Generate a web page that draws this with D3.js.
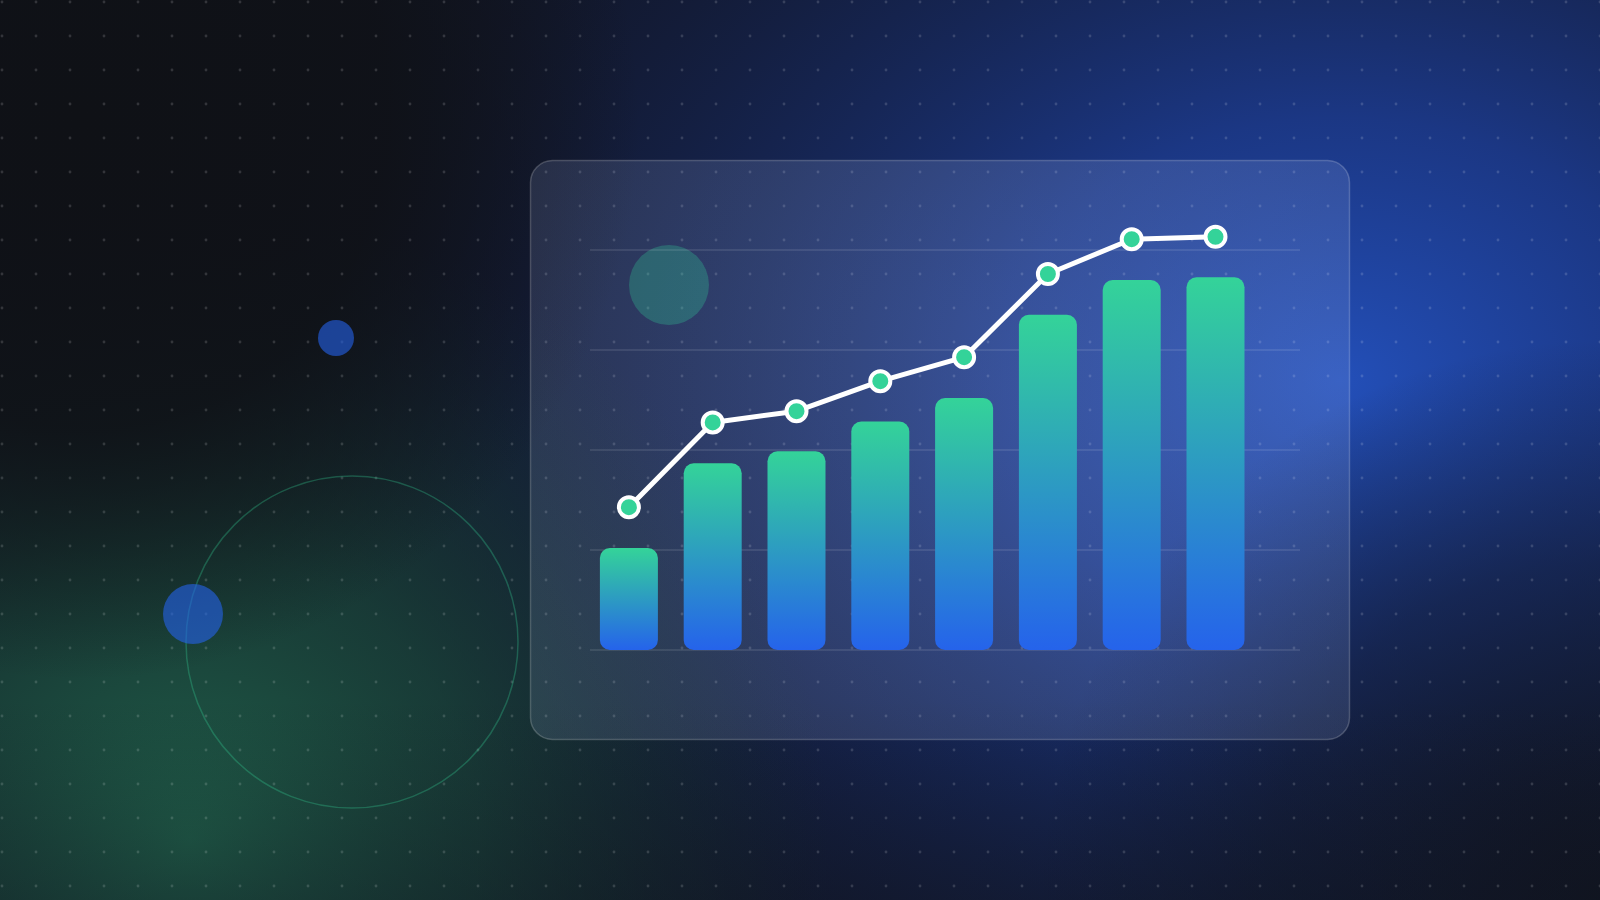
<!DOCTYPE html>
<html>
<head>
<meta charset="utf-8">
<script src="https://cdn.jsdelivr.net/npm/d3@7"></script>
<style>
  html, body { margin: 0; padding: 0; background: #0f1117; }
  svg { display: block; }
</style>
</head>
<body>
<svg id="chart" width="1600" height="900"></svg>
<script>
// ---- data ----
const categories = ["P1", "P2", "P3", "P4", "P5", "P6", "P7", "P8"];
const barValues  = [25.5, 46.7, 49.7, 57.1, 63.0, 83.8, 92.5, 93.2];
const lineValues = [35.7, 56.9, 59.7, 67.2, 73.2, 94.0, 102.7, 103.3];
const gridTicks  = [0, 25, 50, 75, 100];

const W = 1600, H = 900;
const svg = d3.select("#chart");
const defs = svg.append("defs");

function radial(id, cx, cy, r, stops, transform) {
  const g = defs.append("radialGradient").attr("id", id)
    .attr("gradientUnits", "userSpaceOnUse").attr("cx", cx).attr("cy", cy).attr("r", r);
  if (transform) g.attr("gradientTransform", transform);
  stops.forEach(s => g.append("stop").attr("offset", s[0]).attr("stop-color", s[1]).attr("stop-opacity", s[2]));
}

// elliptical blue glow (compressed vertically around cy=380)
radial("blueGlow", 1340, 380, 1120, [
  ["0%", "#2452c0", 0.95], ["30%", "#1d3d95", 0.85], ["60%", "#172a62", 0.6], ["100%", "#131a33", 0]],
  "translate(0,380) scale(1,0.78) translate(0,-380)");
radial("greenGlow", 190, 840, 640, [
  ["0%", "#20604a", 1], ["45%", "#1b4a3d", 0.7], ["100%", "#17332d", 0]]);
radial("topDark", 80, 120, 560, [
  ["0%", "#0f1116", 1], ["55%", "#0f1116", 0.85], ["100%", "#0f1116", 0]]);
radial("darkCorner", 1600, 900, 560, [
  ["0%", "#10141f", 0.95], ["60%", "#10141f", 0.5], ["100%", "#10141f", 0]]);
radial("cardFill", 1020, 380, 580, [
  ["0%", "#b4c8ff", 0.19], ["100%", "#b4c8ff", 0.13]]);

const bottomDark = defs.append("linearGradient").attr("id", "bottomDark")
  .attr("gradientUnits", "userSpaceOnUse").attr("x1", 0).attr("y1", 700).attr("x2", 0).attr("y2", 900);
bottomDark.append("stop").attr("offset", "0%").attr("stop-color", "#10141f").attr("stop-opacity", 0);
bottomDark.append("stop").attr("offset", "100%").attr("stop-color", "#10141f").attr("stop-opacity", 0.35);

// dot pattern
const pat = defs.append("pattern").attr("id", "dots")
  .attr("patternUnits", "userSpaceOnUse").attr("width", 34).attr("height", 34);
pat.append("circle").attr("cx", 2).attr("cy", 2).attr("r", 1.4).attr("fill", "rgba(255,255,255,0.15)");

// bar gradient
const barGrad = defs.append("linearGradient").attr("id", "barGrad")
  .attr("x1", 0).attr("y1", 0).attr("x2", 0).attr("y2", 1);
barGrad.append("stop").attr("offset", "0%").attr("stop-color", "#34d399");
barGrad.append("stop").attr("offset", "100%").attr("stop-color", "#2563eb");

// ---- background ----
svg.append("rect").attr("width", W).attr("height", H).attr("fill", "#111524");
["blueGlow", "greenGlow", "topDark", "darkCorner", "bottomDark", "dots"].forEach(id =>
  svg.append("rect").attr("width", W).attr("height", H).attr("fill", `url(#${id})`));

// decorative shapes
svg.append("circle").attr("cx", 352).attr("cy", 642).attr("r", 166)
  .attr("fill", "none").attr("stroke", "#34d399").attr("stroke-opacity", 0.3).attr("stroke-width", 1.5);
svg.append("circle").attr("cx", 193).attr("cy", 614).attr("r", 30)
  .attr("fill", "#2563eb").attr("fill-opacity", 0.6);
svg.append("circle").attr("cx", 336).attr("cy", 338).attr("r", 18)
  .attr("fill", "#2563eb").attr("fill-opacity", 0.6);

// card
svg.append("rect").attr("x", 530.5).attr("y", 160.5).attr("width", 819).attr("height", 579)
  .attr("rx", 22).attr("fill", "url(#cardFill)")
  .attr("stroke", "rgba(255,255,255,0.2)").attr("stroke-width", 1.5);

// ---- chart ----
const x = d3.scaleBand().domain(categories).range([587, 1257.4])
  .paddingInner(0.308).paddingOuter(0.154);
const y = d3.scaleLinear().domain([0, 100]).range([650, 250]);

svg.append("circle").attr("cx", 669).attr("cy", 285).attr("r", 40)
  .attr("fill", "#34d399").attr("fill-opacity", 0.28);

svg.append("g").selectAll("line").data(gridTicks).join("line")
  .attr("x1", 590).attr("x2", 1300)
  .attr("y1", d => y(d)).attr("y2", d => y(d))
  .attr("stroke", "rgba(255,255,255,0.13)").attr("stroke-width", 1.5);

svg.append("g").selectAll("rect").data(barValues).join("rect")
  .attr("x", (d, i) => x(categories[i]))
  .attr("y", d => y(d))
  .attr("width", x.bandwidth())
  .attr("height", d => y(0) - y(d))
  .attr("rx", 10)
  .attr("fill", "url(#barGrad)");

const line = d3.line()
  .x((d, i) => x(categories[i]) + x.bandwidth() / 2)
  .y(d => y(d));
svg.append("path").datum(lineValues).attr("d", line)
  .attr("fill", "none").attr("stroke", "#ffffff").attr("stroke-width", 5)
  .attr("stroke-linejoin", "round").attr("stroke-linecap", "round");

svg.append("g").selectAll("circle").data(lineValues).join("circle")
  .attr("cx", (d, i) => x(categories[i]) + x.bandwidth() / 2)
  .attr("cy", d => y(d))
  .attr("r", 10)
  .attr("fill", "#34d399")
  .attr("stroke", "#ffffff").attr("stroke-width", 4);
</script>
</body>
</html>
